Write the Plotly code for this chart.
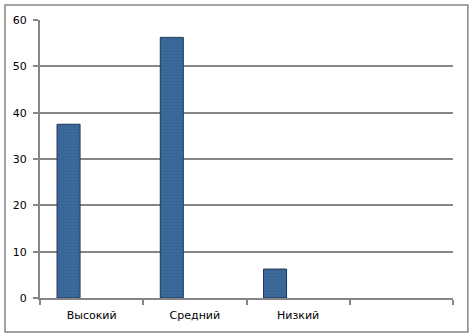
import plotly.graph_objects as go

categories = ["Высокий", "Средний", "Низкий", " "]
values = [37.5, 56.25, 6.25, None]
y_ticks = [0, 10, 20, 30, 40, 50, 60]

GRAY = "#868686"

fig = go.Figure()
fig.add_trace(go.Bar(
    x=categories, y=values,
    width=0.223, offset=-0.335,
    marker=dict(color="#3b69a8",
                line=dict(color="#1d3559", width=1),
                pattern=dict(shape=".", fgcolor="#2f5e4a", size=3, solidity=0.35)),
    showlegend=False,
))

fig.update_layout(
    width=472, height=336,
    margin=dict(l=40, r=19, t=20, b=38),
    paper_bgcolor="white", plot_bgcolor="white",
    font=dict(family="DejaVu Sans", size=11, color="black"),
    xaxis=dict(type="category", categoryorder="array", categoryarray=categories,
               range=[-0.5, 3.5], tickson="boundaries", ticks="outside",
               ticklen=5, tickwidth=2, tickcolor=GRAY,
               showline=True, linecolor=GRAY, linewidth=2,
               showgrid=False, ticklabelstandoff=6),
    yaxis=dict(range=[0, 60], tickvals=y_ticks, ticks="outside", ticklen=5,
               tickwidth=2, tickcolor=GRAY, showline=True, linecolor=GRAY,
               linewidth=2, showgrid=True, gridcolor=GRAY, gridwidth=2,
               zeroline=False, ticklabelstandoff=4),
    shapes=[dict(type="rect", xref="paper", yref="paper",
                 x0=-0.0847, x1=1.036, y0=-0.122, y1=1.054,
                 line=dict(color=GRAY, width=1.5), fillcolor="rgba(0,0,0,0)",
                 layer="below")],
)

fig.write_html("out.html")
